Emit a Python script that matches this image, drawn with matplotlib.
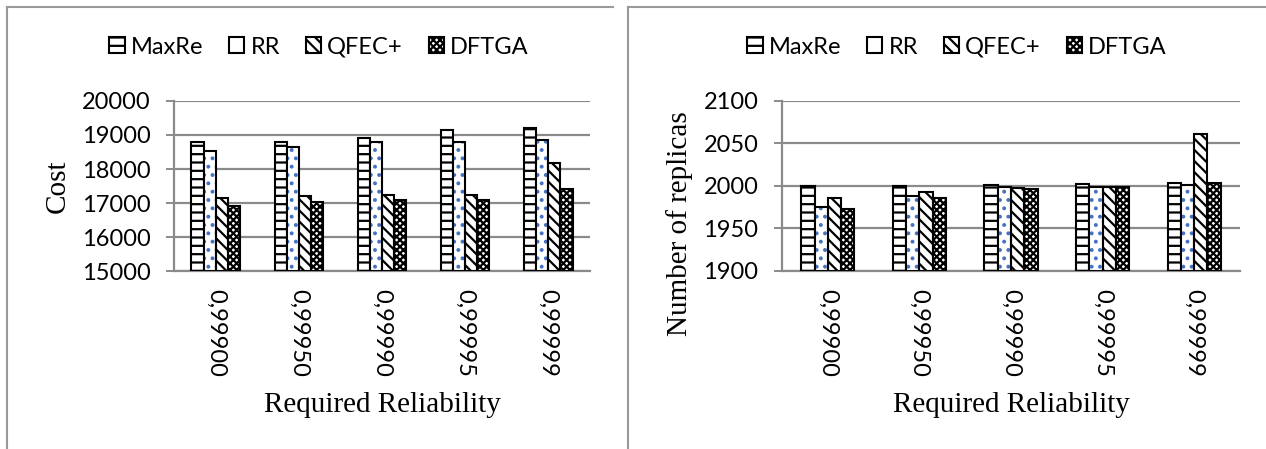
import numpy as np
import matplotlib
matplotlib.use("Agg")
import matplotlib.pyplot as plt
from matplotlib.lines import Line2D

plt.rcParams["font.family"] = ["Lato", "DejaVu Sans"]
plt.rcParams["hatch.linewidth"] = 1.6

reliability = ["0,99900", "0,99950", "0,99990", "0,99995", "0,99999"]
methods = ["MaxRe", "RR", "QFEC+", "DFTGA"]

cost_maxre = [18800, 18800, 18920, 19160, 19200]
cost_rr = [18520, 18650, 18800, 18800, 18865]
cost_qfec = [17150, 17200, 17240, 17240, 18170]
cost_dftga = [16920, 17015, 17095, 17100, 17420]

rep_maxre = [2000, 2000, 2001, 2002.5, 2003.7]
rep_rr = [1975, 1988.5, 1998.6, 1998.6, 2001]
rep_qfec = [1985.3, 1992.8, 1998, 1998.6, 2061.6]
rep_dftga = [1972.4, 1985.7, 1996.7, 1998.6, 2003]

HATCHES = ["--", "..", "\\\\\\", "xxxxx"]
GRID = "#8a8a8a"
SERIF = ["Liberation Serif", "DejaVu Serif"]
W = 0.145
FS = 17


def draw_panel(ax, series, yticks, ylabel):
    x = np.arange(len(reliability))
    handles = []
    for i, vals in enumerate(series):
        pos = x + (i - 1.5) * W
        base = yticks[0]
        h = np.array(vals) - base
        if methods[i] == "RR":
            # blue dots under a black outline
            ax.bar(pos, h, W, bottom=base, color="white", edgecolor="#4472c4",
                   hatch=HATCHES[i], linewidth=0, zorder=3)
            b = ax.bar(pos, h, W, bottom=base, facecolor="none",
                       edgecolor="black", linewidth=1.5, zorder=4)
        else:
            b = ax.bar(pos, h, W, bottom=base, color="white", edgecolor="black",
                       hatch=HATCHES[i], linewidth=1.5, zorder=3)
        handles.append(b)
    ax.set_xlim(-0.5, len(reliability) - 0.5)
    ax.set_ylim(yticks[0], yticks[-1])
    ax.set_yticks(yticks)
    ax.set_xticks(x)
    ax.set_xticklabels(reliability, rotation=-90, va="top", ha="center")
    ax.tick_params(axis="x", length=0, pad=13, labelsize=FS)
    ax.tick_params(axis="y", length=6, width=1.4, color=GRID, pad=11, labelsize=FS)
    ax.grid(axis="y", color=GRID, linewidth=1.6, zorder=0)
    for s in ["top", "right"]:
        ax.spines[s].set_visible(False)
    for s in ["left", "bottom"]:
        ax.spines[s].set_color(GRID)
        ax.spines[s].set_linewidth(1.6)
    ax.set_xlabel("Required Reliability", family=SERIF, fontsize=21)
    ax.xaxis.set_label_coords(0.5, -0.79)
    ax.xaxis.label.set_va("center")
    ax.set_ylabel(ylabel, family=SERIF, fontsize=21)
    ax.yaxis.label.set_va("center")
    return handles


fig = plt.figure(figsize=(12.66, 4.49), dpi=100)
ax1 = fig.add_axes([174 / 1266, 1 - 271 / 449, 416 / 1266, 170 / 449])
ax2 = fig.add_axes([782 / 1266, 1 - 271 / 449, 458 / 1266, 170 / 449])

h1 = draw_panel(ax1, [cost_maxre, cost_rr, cost_qfec, cost_dftga],
                [15000, 16000, 17000, 18000, 19000, 20000], "Cost")
ax1.yaxis.set_label_coords(-0.279, 0.5)
h2 = draw_panel(ax2, [rep_maxre, rep_rr, rep_qfec, rep_dftga],
                [1900, 1950, 2000, 2050, 2100], "Number of replicas")
ax2.yaxis.set_label_coords(-0.223, 0.28)

for hs, cx in [(h1, 319), (h2, 957)]:
    fig.legend(hs, methods, loc="center", bbox_to_anchor=(cx / 1266, 1 - 47 / 449),
               ncol=4, frameon=False, fontsize=FS, handlelength=0.65,
               handleheight=0.65, handletextpad=0.25, columnspacing=1.1)

# panel frames
fc = "#9a9a9a"
for x0, x1 in [(7, 613), (628, 1266)]:
    fig.add_artist(Line2D([x0 / 1266, x0 / 1266], [0, 1 - 7 / 449], color=fc, lw=1.5))
    fig.add_artist(Line2D([x0 / 1266, x1 / 1266], [1 - 7 / 449, 1 - 7 / 449], color=fc, lw=1.5))

fig.savefig("out.png", dpi=100)
